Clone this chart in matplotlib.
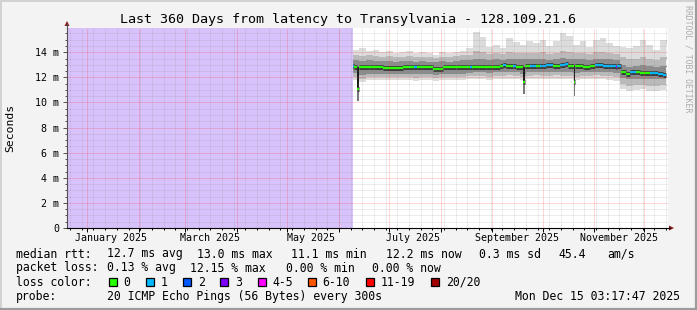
import matplotlib
matplotlib.use('Agg')
import matplotlib.pyplot as plt
import matplotlib.dates as mdates
from matplotlib.patches import Rectangle, Polygon
from datetime import datetime, timedelta
import numpy as np

W, H = 697, 310
MONO = 'DejaVu Sans Mono'

end_time = datetime(2025, 12, 15, 3, 17, 47)
start_time = end_time - timedelta(days=360)
data_start = datetime(2025, 6, 9, 6)

# smoke (sorted ping rtt in ms), one value every 4 days from data_start
smoke_step = 4
smoke_top = [14.2, 14.3, 14.1, 14.2, 14.0, 14.1, 13.9, 14.0, 14.1, 13.9, 14.0, 13.9,
             13.8, 14.0, 13.9, 14.0, 14.1, 14.3, 15.6, 15.2, 14.4, 14.6, 14.3, 15.1,
             14.8, 14.6, 14.9, 14.7, 15.0, 14.5, 14.9, 15.5, 15.3, 14.6, 14.9, 14.4,
             15.0, 15.1, 14.7, 14.5, 14.4, 14.3, 14.5, 15.0, 14.6, 14.2, 15.0, 14.6]
smoke_p90 = [13.8, 13.7, 13.75, 13.7, 13.65, 13.7, 13.6, 13.65, 13.7, 13.6, 13.65, 13.6,
             13.55, 13.65, 13.6, 13.7, 13.75, 13.8, 14.1, 14.0, 13.85, 13.9, 13.85, 14.0,
             13.95, 13.9, 13.95, 13.9, 14.0, 13.85, 13.95, 14.1, 14.05, 13.9, 13.95, 13.85,
             14.0, 14.0, 13.9, 13.85, 13.6, 13.45, 13.5, 13.6, 13.5, 13.4, 13.6, 13.5]
smoke_p75 = [13.35, 13.3, 13.35, 13.3, 13.3, 13.3, 13.25, 13.3, 13.3, 13.25, 13.3, 13.25,
             13.2, 13.3, 13.25, 13.3, 13.35, 13.35, 13.5, 13.45, 13.4, 13.45, 13.4, 13.5,
             13.45, 13.45, 13.5, 13.45, 13.5, 13.4, 13.45, 13.55, 13.5, 13.45, 13.45, 13.4,
             13.5, 13.5, 13.45, 13.4, 12.95, 12.85, 12.9, 12.95, 12.9, 12.85, 12.9, 12.85]
smoke_p25 = [12.35, 12.2, 12.3, 12.3, 12.3, 12.25, 12.3, 12.3, 12.3, 12.25, 12.3, 12.25,
             12.2, 12.3, 12.3, 12.3, 12.3, 12.35, 12.4, 12.4, 12.35, 12.4, 12.4, 12.45,
             12.4, 12.3, 12.4, 12.45, 12.4, 12.4, 12.45, 12.4, 12.4, 12.35, 12.4, 12.4,
             12.45, 12.4, 12.4, 12.35, 11.95, 11.85, 11.9, 11.9, 11.85, 11.85, 11.9, 11.85]
smoke_p10 = [12.05, 11.9, 12.0, 12.05, 12.0, 12.0, 12.05, 12.0, 12.0, 11.95, 12.0, 12.0,
             11.95, 12.0, 12.05, 12.0, 12.05, 12.1, 12.1, 12.1, 12.05, 12.1, 12.1, 12.15,
             12.1, 12.0, 12.1, 12.15, 12.1, 12.1, 12.15, 12.1, 12.1, 12.05, 12.1, 12.1,
             12.15, 12.1, 12.1, 12.0, 11.45, 11.35, 11.4, 11.4, 11.35, 11.3, 11.4, 11.35]
smoke_low = [11.8, 11.6, 11.75, 11.8, 11.75, 11.75, 11.8, 11.75, 11.8, 11.7, 11.75, 11.75,
             11.7, 11.75, 11.8, 11.75, 11.8, 11.85, 11.85, 11.85, 11.8, 11.85, 11.85, 11.9,
             11.85, 11.75, 11.85, 11.9, 11.85, 11.85, 11.9, 11.85, 11.85, 11.8, 11.85, 11.85,
             11.9, 11.85, 11.8, 11.7, 11.05, 10.95, 11.0, 11.05, 10.95, 10.9, 11.0, 10.95]

# median rtt as steps: edges in days from data_start, value (ms), lost pings
med_edges = [0, 1, 2.6, 3.6, 10, 18, 30, 37, 38.5, 48, 54, 62, 70, 71.5, 80, 88, 90, 92,
             96, 98, 102.3, 103.3, 106, 110, 112, 116, 120, 124, 127, 129, 132.4, 133.4,
             138, 142, 145, 150, 155, 157.5, 158.5, 160.5, 163.5, 166, 170, 172, 178, 183,
             186, 187.5]
med_ms = [12.88, 12.86, 11.06, 12.84, 12.82, 12.78, 12.80, 12.80, 12.79, 12.68, 12.80,
          12.83, 12.80, 12.82, 12.84, 12.90, 12.99, 12.88, 12.92, 12.86, 11.62, 12.90,
          12.94, 12.90, 12.92, 12.95, 12.90, 12.96, 13.03, 12.90, 11.60, 12.88, 12.86,
          12.93, 12.98, 12.92, 12.88, 12.82, 12.90, 12.45, 12.30, 12.42, 12.45, 12.36,
          12.32, 12.26, 12.22]
med_loss = [1, 0, 0, 0, 0, 0, 0, 1, 0, 0, 0, 0, 1, 0, 0, 0, 1, 0, 1, 0, 0, 0, 1, 0, 1, 1,
            0, 1, 1, 0, 0, 0, 0, 0, 1, 1, 1, 3, 1, 0, 0, 1, 0, 0, 1, 1, 1]

# short drops
dip_day = [2.6, 102.3, 132.4]
dip_top = [12.86, 12.86, 12.88]
dip_mid = [11.06, 11.62, 11.60]
dip_floor = [10.15, 10.65, 10.55]

loss_labels = ['0', '1', '2', '3', '4-5', '6-10', '11-19', '20/20']
loss_colors = ['#26ff00', '#00b8ff', '#0059ff', '#7e00ff', '#ff00ff', '#ff5500', '#ff0000', '#a10000']


def loss_color(n):
    if n <= 3:
        return loss_colors[n]
    if n <= 5:
        return loss_colors[4]
    if n <= 10:
        return loss_colors[5]
    if n <= 19:
        return loss_colors[6]
    return loss_colors[7]


def d2n(days):
    return mdates.date2num([data_start + timedelta(days=float(d)) for d in days])


fig = plt.figure(figsize=(W / 100, H / 100), dpi=100, facecolor='#f3f3f3')
ax = fig.add_axes([67 / W, 1 - 228 / H, 601 / W, 200 / H])
ax.set_facecolor('white')
x0, x1 = mdates.date2num(start_time), mdates.date2num(end_time)
ax.set_xlim(x0, x1)
ax.set_ylim(0, 15.93)

# unknown period
ax.axvspan(x0, d2n([0])[0], color='#d8c2fb', lw=0, zorder=1)

# smoke
n = len(smoke_top)
sx = np.append(d2n([i * smoke_step for i in range(n)]), d2n([med_edges[-1]]))


def band(lo, hi, c):
    lo = np.append(lo, lo[-1])
    hi = np.append(hi, hi[-1])
    ax.fill_between(sx, lo, hi, step='post', color=c, lw=0, zorder=2)


band(smoke_low, smoke_top, '#dcdcdc')
band(smoke_p10, smoke_p90, '#bababa')
band(smoke_p25, smoke_p75, '#8c8c8c')

# drops
dx = d2n(dip_day)
dw = 0.9
ax.bar(dx, np.array(dip_top) - np.array(dip_floor), bottom=dip_floor, width=dw,
       align='edge', color='#7a7a7a', lw=0, zorder=3)
ax.bar(dx, np.array(dip_top) - np.array(dip_mid), bottom=dip_mid, width=dw,
       align='edge', color='#1c1c1c', lw=0, zorder=3)

# median
ex = d2n(med_edges)
ax.hlines(med_ms, ex[:-1], ex[1:], colors='#3c3c3c', lw=3.6, zorder=4)
ax.hlines(med_ms, ex[:-1], ex[1:], colors=[loss_color(l) for l in med_loss], lw=1.6, zorder=5)

# grid
gkw = dict(lw=0.72, ls=(0, (1, 1)), zorder=6)
for v in np.arange(0.5, 16, 0.5):
    if v % 2:
        ax.axhline(v, color='#8a8a8a', alpha=0.3, **gkw)
for v in range(2, 16, 2):
    ax.axhline(v, color='#ff3030', alpha=0.4, **gkw)
weeks = mdates.drange(datetime(2024, 12, 22), end_time, timedelta(days=7))
months = [mdates.date2num(datetime(2025, m, 1)) for m in range(1, 13)]
for w in weeks:
    ax.axvline(w, color='#8a8a8a', alpha=0.3, **gkw)
for m in months:
    ax.axvline(m, color='#ff3030', alpha=0.4, **gkw)

# axes and ticks
for s in ['top', 'right']:
    ax.spines[s].set_visible(False)
ax.spines['left'].set_color('#505050')
ax.spines['bottom'].set_color('black')
ax.spines['left'].set_linewidth(0.8)
ax.spines['bottom'].set_linewidth(0.8)
yt = list(range(0, 16, 2))
ax.set_yticks(yt)
ax.set_yticklabels(['0' if v == 0 else '%d m' % v for v in yt], fontsize=7.2, family=MONO)
ax.set_yticks(np.arange(0, 16, 0.5), minor=True)
ax.tick_params(axis='y', which='major', length=3, width=0.7, color='#505050', pad=2.5)
ax.tick_params(axis='y', which='minor', length=1.5, width=0.7, color='#505050')
ax.set_xticks(months)
ax.set_xticklabels([])
ax.set_xticks(weeks, minor=True)
ax.tick_params(axis='x', which='major', length=3, width=0.7, color='black')
ax.tick_params(axis='x', which='minor', length=1.5, width=0.7, color='black')

month_labels = ['January 2025', 'March 2025', 'May 2025', 'July 2025', 'September 2025', 'November 2025']
month_label_dates = [datetime(2025, m, 15, 12) for m in (1, 3, 5, 7, 9, 11)]
for lab, d in zip(month_labels, month_label_dates):
    ax.text(mdates.date2num(d), -9.7 / 200, lab, transform=ax.get_xaxis_transform(),
            ha='center', va='center', fontsize=7.2, family=MONO)

# overlay in pixel coordinates for frame, arrows and legend boxes
ov = fig.add_axes([0, 0, 1, 1], zorder=10)
ov.set_xlim(0, W)
ov.set_ylim(H, 0)
ov.axis('off')
ov.patch.set_alpha(0)
ov.plot([67, 67], [28, 24], color='#505050', lw=0.8)
ov.plot([668, 670], [228, 228], color='black', lw=0.8)
ov.add_patch(Polygon([[64.5, 26], [69.5, 26], [67, 21]], closed=True, color='#8b1a1a', lw=0))
ov.add_patch(Polygon([[669, 225.5], [669, 230.5], [674, 228]], closed=True, color='#8b1a1a', lw=0))
# frame
ov.plot([0.5, W - 0.5], [0.8, 0.8], color='#d2d2d2', lw=1.4)
ov.plot([0.8, 0.8], [0, H], color='#d2d2d2', lw=1.4)
ov.plot([0, W], [H - 1, H - 1], color='#9c9c9c', lw=1.6)
ov.plot([W - 1, W - 1], [0, H], color='#9c9c9c', lw=1.6)

# texts
def ftext(x, y, s, **kw):
    fig.text(x / W, 1 - y / H, s, family=MONO, **kw)


ftext(348.5, 19, 'Last 360 Days from latency to Transylvania - 128.109.21.6',
      ha='center', va='center', fontsize=9.6)
fig.text(10.5 / W, 1 - 128 / H, 'Seconds', rotation=90, ha='center', va='center',
         fontsize=8.2, family=MONO)
fig.text(688 / W, 1 - 5 / H, 'RRDTOOL / TOBI OETIKER', rotation=270, ha='center', va='top',
         fontsize=5.9, family=MONO, color='#ababab')

fs = 8.3
ftext(16, 254, 'median rtt:', va='center', fontsize=fs)
for xx, s in [(107, '12.7 ms avg'), (197, '13.0 ms max'), (291, '11.1 ms min'),
              (386, '12.2 ms now'), (479, '0.3 ms sd'), (558, '45.4'), (607, 'am/s')]:
    ftext(xx, 254, s, va='center', fontsize=fs)
ftext(16, 268, 'packet loss:', va='center', fontsize=fs)
for xx, s in [(107, '0.13 % avg'), (190.5, '12.15 % max'), (286, '0.00 % min'), (372, '0.00 % now')]:
    ftext(xx, 268, s, va='center', fontsize=fs)
ftext(16, 282, 'loss color:', va='center', fontsize=fs)
box_x = [108.5, 145.5, 183, 220, 257.5, 307.5, 366, 431]
for bx, lab, c in zip(box_x, loss_labels, loss_colors):
    ov.add_patch(Rectangle((bx, 277.5), 8, 8.5, facecolor=c, edgecolor='black', lw=0.9))
    ftext(bx + 15, 282, lab, va='center', fontsize=fs)
ftext(16, 296.5, 'probe:', va='center', fontsize=fs)
ftext(107, 296.5, '20 ICMP Echo Pings (56 Bytes) every 300s', va='center', fontsize=fs)
ftext(680, 296.5, 'Mon Dec 15 03:17:47 2025', ha='right', va='center', fontsize=fs)

fig.savefig('out.png', dpi=100, facecolor=fig.get_facecolor())
